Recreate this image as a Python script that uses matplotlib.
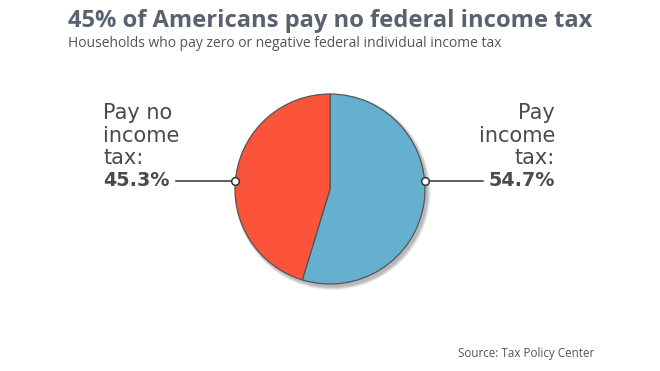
import matplotlib.pyplot as plt
from matplotlib.patches import Circle

# data
labels = ["Pay income tax", "Pay no income tax"]
shares = [54.7, 45.3]
colors = ["#65b0cf", "#fc543b"]

title = "45% of Americans pay no federal income tax"
subtitle = "Households who pay zero or negative federal individual income tax"
source = "Source: Tax Policy Center"

W, H = 660, 371
fig = plt.figure(figsize=(W / 100, H / 100), dpi=100)
ax = fig.add_axes([0, 0, 1, 1])

def py(y):
    # pixel row (from top) -> data y
    return H - y

cx, cy, r = 330, py(189), 95

# soft shadow under the pie
for k in range(6):
    ax.add_patch(Circle((cx + 2.5, cy - 3), r + 3 - k * 0.6, color='black',
                        alpha=0.05, lw=0, zorder=1))

ax.pie(shares, colors=colors, startangle=90, counterclock=False,
       center=(cx, cy), radius=r, frame=True,
       wedgeprops=dict(edgecolor='#555555', linewidth=0.9, zorder=2))
ax.set_xlim(0, W)
ax.set_ylim(0, H)
ax.set_aspect('equal')
ax.axis('off')

# leader lines with hollow markers
ly = py(181)
ax.plot([176, 235], [ly, ly], color='#333333', lw=1.1, zorder=3)
ax.plot([425, 483], [ly, ly], color='#333333', lw=1.1, zorder=3)
ax.plot([235, 425], [ly, ly], ls='none', marker='o', ms=5.5, mfc='white',
        mec='#333333', mew=1.1, zorder=4)

tc = '#4a4a4a'
rows = [113, 135.5, 158, 181]
left_lines = ["Pay no", "income", "tax:", f"{shares[1]}%"]
right_lines = ["Pay", "income", "tax:", f"{shares[0]}%"]
for i, (a, b) in enumerate(zip(left_lines, right_lines)):
    w = 'bold' if i == 3 else 'normal'
    fs = 13.8 if i == 3 else 15
    ax.text(103, py(rows[i]), a, ha='left', va='center', fontsize=fs,
            fontweight=w, color=tc, family='DejaVu Sans')
    ax.text(555, py(rows[i]), b, ha='right', va='center', fontsize=fs,
            fontweight=w, color=tc, family='DejaVu Sans')

ax.text(68, py(27), title, ha='left', va='baseline', fontsize=17.1,
        fontweight='bold', color='#5a6270', family='Open Sans')
ax.text(68, py(47), subtitle, ha='left', va='baseline', fontsize=10,
        color='#555555', family='Open Sans')
ax.text(458, py(357), source, ha='left', va='baseline', fontsize=8.4,
        color='#555555', family='Open Sans')

fig.savefig('out.png', dpi=100)
